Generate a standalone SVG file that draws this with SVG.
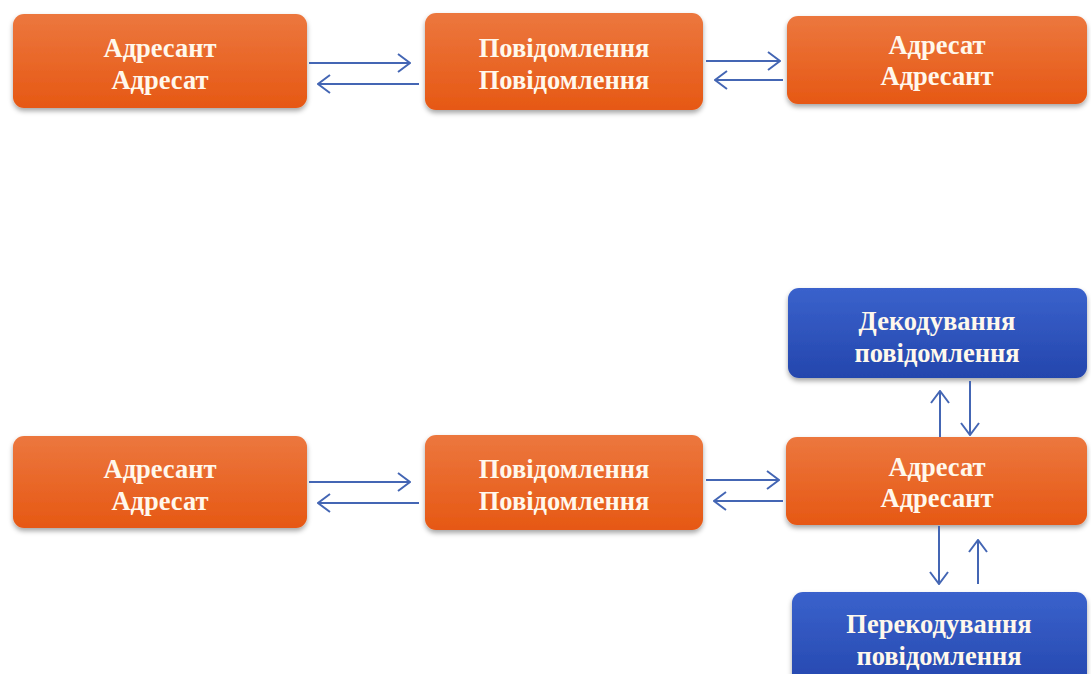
<svg xmlns="http://www.w3.org/2000/svg" width="1091" height="674" viewBox="0 0 1091 674">
<style>
.t{font-family:"Liberation Serif","Times New Roman",serif;font-weight:bold;font-size:26.5px;fill:#fff8ec;text-anchor:middle}
.c{stroke:#4466b4;stroke-width:2;fill:none}
</style>
<defs>
<linearGradient id="og" x1="0" y1="0" x2="0" y2="1">
<stop offset="0" stop-color="#ec773e"/>
<stop offset="1" stop-color="#e65814"/>
</linearGradient>
<linearGradient id="bg" x1="0" y1="0" x2="0" y2="1">
<stop offset="0" stop-color="#3a62cc"/>
<stop offset="1" stop-color="#2446ad"/>
</linearGradient>
<filter id="sh" x="-10%" y="-10%" width="120%" height="135%">
<feDropShadow dx="0" dy="3" stdDeviation="2.5" flood-color="#000" flood-opacity="0.35"/>
</filter>
<marker id="ah" viewBox="0 0 14 20" refX="13" refY="10" markerWidth="14" markerHeight="20" markerUnits="userSpaceOnUse" orient="auto">
<path d="M1,1 L13,10 L1,19" fill="none" stroke="#4466b4" stroke-width="2"/>
</marker>
</defs>
<rect width="1091" height="674" fill="#ffffff"/>

<g id="n1">
<rect x="13" y="14" width="294" height="94" rx="11" fill="url(#og)" filter="url(#sh)"/>
<text class="t" x="160" y="57">Адресант</text>
<text class="t" x="160" y="89">Адресат</text>
</g>
<g id="n2">
<rect x="425" y="13" width="278" height="97" rx="11" fill="url(#og)" filter="url(#sh)"/>
<text class="t" x="564" y="57">Повідомлення</text>
<text class="t" x="564" y="89">Повідомлення</text>
</g>
<g id="n3">
<rect x="787" y="16" width="300" height="88" rx="11" fill="url(#og)" filter="url(#sh)"/>
<text class="t" x="937" y="54">Адресат</text>
<text class="t" x="937" y="85">Адресант</text>
</g>

<g id="n4">
<rect x="13" y="436" width="294" height="92" rx="11" fill="url(#og)" filter="url(#sh)"/>
<text class="t" x="160" y="478">Адресант</text>
<text class="t" x="160" y="510">Адресат</text>
</g>
<g id="n5">
<rect x="425" y="435" width="278" height="95" rx="11" fill="url(#og)" filter="url(#sh)"/>
<text class="t" x="564" y="478">Повідомлення</text>
<text class="t" x="564" y="510">Повідомлення</text>
</g>
<g id="n6">
<rect x="786" y="437" width="301" height="88" rx="11" fill="url(#og)" filter="url(#sh)"/>
<text class="t" x="937" y="476">Адресат</text>
<text class="t" x="937" y="507">Адресант</text>
</g>
<g id="n7">
<rect x="788" y="288" width="299" height="90" rx="11" fill="url(#bg)" filter="url(#sh)"/>
<text class="t" x="937" y="330">Декодування</text>
<text class="t" x="937" y="362">повідомлення</text>
</g>
<g id="n8">
<rect x="792" y="592" width="295" height="100" rx="11" fill="url(#bg)" filter="url(#sh)"/>
<text class="t" x="939" y="633">Перекодування</text>
<text class="t" x="939" y="665">повідомлення</text>
</g>

<g id="connectors">
<line class="c" x1="309" y1="63" x2="410" y2="63" marker-end="url(#ah)"/>
<line class="c" x1="419" y1="84" x2="318" y2="84" marker-end="url(#ah)"/>
<line class="c" x1="706" y1="61" x2="780" y2="61" marker-end="url(#ah)"/>
<line class="c" x1="783" y1="80" x2="715" y2="80" marker-end="url(#ah)"/>

<line class="c" x1="309" y1="482" x2="410" y2="482" marker-end="url(#ah)"/>
<line class="c" x1="419" y1="503" x2="318" y2="503" marker-end="url(#ah)"/>
<line class="c" x1="706" y1="480" x2="779" y2="480" marker-end="url(#ah)"/>
<line class="c" x1="783" y1="501" x2="714" y2="501" marker-end="url(#ah)"/>

<line class="c" x1="940" y1="437" x2="940" y2="391" marker-end="url(#ah)"/>
<line class="c" x1="970" y1="381" x2="970" y2="435" marker-end="url(#ah)"/>
<line class="c" x1="939" y1="526" x2="939" y2="584" marker-end="url(#ah)"/>
<line class="c" x1="978" y1="584" x2="978" y2="540" marker-end="url(#ah)"/>
</g>
</svg>
